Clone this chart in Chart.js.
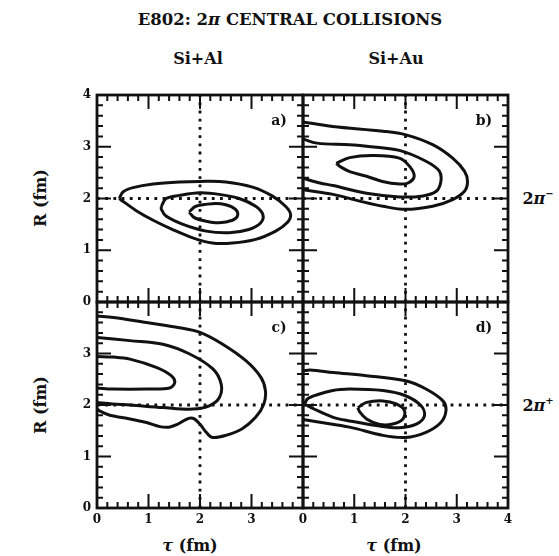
<!DOCTYPE html>
<html>
<head>
<meta charset="utf-8">
<script src="https://cdn.jsdelivr.net/npm/chart.js@4.4.0/dist/chart.umd.min.js"></script>
<style>
body { margin: 0; background: #fff; width: 559px; height: 556px; position: relative; overflow: hidden;
       font-family: "DejaVu Serif", serif; font-weight: bold; color: #111; }
.t { position: absolute; white-space: nowrap; transform: translate(-50%, -50%); font-size: 15px; }
.rot { transform: translate(-50%, -50%) rotate(-90deg); }
canvas { position: absolute; }
</style>
</head>
<body>
<div class="t" style="left:290px;top:19px;font-size:16.5px">E802: 2<i>π</i> CENTRAL COLLISIONS</div>
<div class="t" style="left:198px;top:58px;font-size:16px">Si+Al</div>
<div class="t" style="left:396px;top:58px;font-size:16px">Si+Au</div>
<div class="t rot" style="left:40px;top:198px;font-size:16px">R (fm)</div>
<div class="t rot" style="left:40px;top:405px;font-size:16px">R (fm)</div>
<div class="t" style="left:190px;top:545px;font-size:16px"><i>τ</i> (fm)</div>
<div class="t" style="left:394px;top:545px;font-size:16px"><i>τ</i> (fm)</div>
<div class="t" style="left:538px;top:198px;font-size:16px">2<i>π</i><sup style="font-size:10px">−</sup></div>
<div class="t" style="left:538px;top:405px;font-size:16px">2<i>π</i><sup style="font-size:10px">+</sup></div>

<canvas id="pa"></canvas>
<canvas id="pb"></canvas>
<canvas id="pc"></canvas>
<canvas id="pd"></canvas>

<script>
// axis range and tick labels
const axisMin = 0, axisMax = 4;
const yLabelsA = [0, 1, 2, 3, 4];
const yLabelsC = [0, 1, 2, 3];
const xLabelsC = [0, 1, 2, 3];
const xLabelsD = [0, 1, 2, 3, 4];
const refTau = 2, refR = 2;

// contours (tau, R)
const aOuter = [[0.43,2.0],[0.51,2.13],[0.70,2.21],[1.09,2.28],[1.60,2.32],[2.0,2.33],[2.50,2.32],[3.02,2.22],[3.40,2.05],[3.66,1.85],[3.76,1.69],[3.69,1.53],[3.47,1.37],[3.08,1.21],[2.63,1.14],[2.24,1.14],[1.86,1.24],[1.47,1.40],[1.09,1.58],[0.77,1.76],[0.54,1.92],[0.43,2.0]];
const aMid = [[1.25,1.85],[1.34,2.0],[1.60,2.06],[2.0,2.11],[2.37,2.08],[2.76,2.0],[3.08,1.85],[3.22,1.69],[3.18,1.53],[2.95,1.40],[2.57,1.34],[2.12,1.37],[1.67,1.50],[1.34,1.66],[1.25,1.79],[1.25,1.85]];
const aIn = [[1.79,1.74],[1.92,1.85],[2.24,1.90],[2.50,1.88],[2.69,1.79],[2.73,1.67],[2.63,1.58],[2.37,1.53],[2.12,1.56],[1.89,1.63],[1.79,1.74]];

const bOuter = [[0,3.48],[0.58,3.39],[1.56,3.30],[2.01,3.23],[2.53,3.04],[2.92,2.78],[3.15,2.53],[3.21,2.33],[3.15,2.14],[2.92,1.98],[2.53,1.85],[2.0,1.79],[1.56,1.85],[1.11,1.95],[0.59,2.08],[0.33,2.12],[0,2.17]];
const bMid = [[0,3.15],[0.27,3.07],[0.91,3.04],[1.24,3.01],[1.88,2.93],[2.40,2.72],[2.66,2.53],[2.69,2.33],[2.60,2.14],[2.34,2.05],[1.88,2.03],[1.24,2.10],[0.59,2.25],[0.33,2.30],[0,2.39]];
const bIn = [[0.65,2.68],[0.91,2.79],[1.36,2.83],[1.88,2.78],[2.08,2.62],[2.17,2.43],[2.05,2.30],[1.88,2.28],[1.55,2.33],[1.24,2.43],[0.91,2.52],[0.72,2.62],[0.65,2.68]];

const cOuter = [[0,3.73],[0.32,3.70],[0.96,3.60],[1.60,3.50],[2.0,3.41],[2.44,3.18],[2.89,2.86],[3.18,2.54],[3.27,2.28],[3.24,2.02],[3.08,1.76],[2.82,1.54],[2.50,1.41],[2.24,1.37],[2.12,1.47],[2.02,1.60],[1.89,1.73],[1.78,1.74],[1.55,1.62],[1.40,1.57],[1.22,1.58],[0.96,1.66],[0.64,1.73],[0.25,1.80],[0.06,1.88],[0,1.93]];
const cMid = [[0,3.31],[0.64,3.25],[1.28,3.18],[1.80,2.99],[2.25,2.70],[2.41,2.41],[2.38,2.15],[2.19,1.99],[1.86,1.92],[1.28,1.95],[0.64,2.0],[0.3,2.02],[0,2.05]];
const cIn = [[0,2.94],[0.32,2.93],[0.64,2.89],[1.15,2.73],[1.44,2.57],[1.51,2.44],[1.41,2.33],[0.96,2.31],[0.32,2.31],[0,2.33]];

const dOuter = [[0,2.66],[0.14,2.68],[0.59,2.63],[1.24,2.57],[2.0,2.47],[2.40,2.31],[2.73,2.08],[2.79,1.89],[2.69,1.66],[2.40,1.47],[2.0,1.37],[1.56,1.41],[0.91,1.57],[0.3,1.67],[0,1.72]];
const dMid = [[0.03,2.02],[0.1,2.13],[0.58,2.28],[0.91,2.31],[1.56,2.28],[2.0,2.18],[2.30,1.99],[2.37,1.79],[2.21,1.63],[1.88,1.56],[1.5,1.59],[0.91,1.69],[0.59,1.76],[0.2,1.93],[0.03,2.02]];
const dIn = [[1.07,1.95],[1.24,2.05],[1.56,2.08],[1.82,2.02],[1.98,1.89],[1.95,1.73],[1.75,1.63],[1.50,1.62],[1.24,1.73],[1.11,1.86],[1.07,1.95]];

const INK = '#111';
const tickFont = { family: 'DejaVu Serif', weight: 'bold', size: 12 };

// frame with inward major/minor ticks on all four sides, plus panel letter
const framePlugin = {
    id: 'frame',
    afterDatasetsDraw(chart) {
        const { ctx, chartArea: a, scales: { x, y } } = chart;
        ctx.save();
        ctx.strokeStyle = INK;
        ctx.lineWidth = 2.8;
        ctx.strokeRect(a.left, a.top, a.right - a.left, a.bottom - a.top);
        ctx.lineWidth = 2;
        ctx.beginPath();
        for (let i = 0; i <= 20; i++) {
            const v = axisMin + i * 0.2;
            const len = i % 5 === 0 ? 14 : 6;
            const px = x.getPixelForValue(v), py = y.getPixelForValue(v);
            ctx.moveTo(px, a.bottom); ctx.lineTo(px, a.bottom - len);
            ctx.moveTo(px, a.top); ctx.lineTo(px, a.top + len);
            ctx.moveTo(a.left, py); ctx.lineTo(a.left + len, py);
            ctx.moveTo(a.right, py); ctx.lineTo(a.right - len, py);
        }
        ctx.stroke();
        ctx.fillStyle = INK;
        ctx.font = 'bold 14px "DejaVu Serif"';
        ctx.textAlign = 'center';
        ctx.textBaseline = 'middle';
        ctx.fillText(chart.options.panelLetter, a.right - 24, a.top + 26);
        ctx.restore();
    }
};

function line(points, dashed) {
    return {
        data: points.map(p => ({ x: p[0], y: p[1] })),
        showLine: true,
        pointRadius: 0,
        borderColor: INK,
        borderWidth: dashed ? 2.8 : 3,
        borderDash: dashed ? [2.8, 5.4] : [],
        tension: dashed ? 0 : 0.35,
        fill: false
    };
}

function makePanel(id, left, top, right, bottom, letter, contours, xLabels, yLabels) {
    const PADL = 34, PADT = 8, PADR = 8, PADB = 30;
    const cv = document.getElementById(id);
    cv.width = right - left + PADL + PADR;
    cv.height = bottom - top + PADT + PADB;
    cv.style.left = (left - PADL) + 'px';
    cv.style.top = (top - PADT) + 'px';

    const datasets = [
        line([[refTau, axisMin], [refTau, axisMax]], true),
        line([[axisMin, refR], [axisMax, refR]], true)
    ].concat(contours.map(c => line(c, false)));

    new Chart(cv, {
        type: 'scatter',
        data: { datasets },
        options: {
            responsive: false,
            animation: false,
            devicePixelRatio: 1,
            panelLetter: letter,
            layout: { padding: { left: 0, top: PADT, right: PADR, bottom: 0 } },
            plugins: { legend: { display: false }, tooltip: { enabled: false } },
            scales: {
                x: {
                    type: 'linear', min: axisMin, max: axisMax,
                    grid: { display: false, drawTicks: false }, border: { display: false },
                    ticks: {
                        display: xLabels.length > 0, stepSize: 1, padding: 5, autoSkip: false, maxRotation: 0,
                        font: tickFont, color: INK,
                        callback: v => xLabels.includes(v) ? String(v) : ''
                    },
                    afterFit: s => { s.height = PADB; s.paddingLeft = 0; s.paddingRight = 0; }
                },
                y: {
                    type: 'linear', min: axisMin, max: axisMax,
                    grid: { display: false, drawTicks: false }, border: { display: false },
                    ticks: {
                        display: yLabels.length > 0, stepSize: 1, padding: 6, autoSkip: false,
                        font: tickFont, color: INK,
                        callback: v => yLabels.includes(v) ? String(v) : ''
                    },
                    afterFit: s => { s.width = PADL; s.paddingTop = 0; s.paddingBottom = 0; }
                }
            }
        },
        plugins: [framePlugin]
    });
}

makePanel('pa', 97, 95, 303, 302, 'a)', [aOuter, aMid, aIn], [], yLabelsA);
makePanel('pb', 303, 95, 508, 302, 'b)', [bOuter, bMid, bIn], [], []);
makePanel('pc', 97, 302, 303, 508, 'c)', [cOuter, cMid, cIn], xLabelsC, yLabelsC);
makePanel('pd', 303, 302, 508, 508, 'd)', [dOuter, dMid, dIn], xLabelsD, []);
</script>
</body>
</html>
